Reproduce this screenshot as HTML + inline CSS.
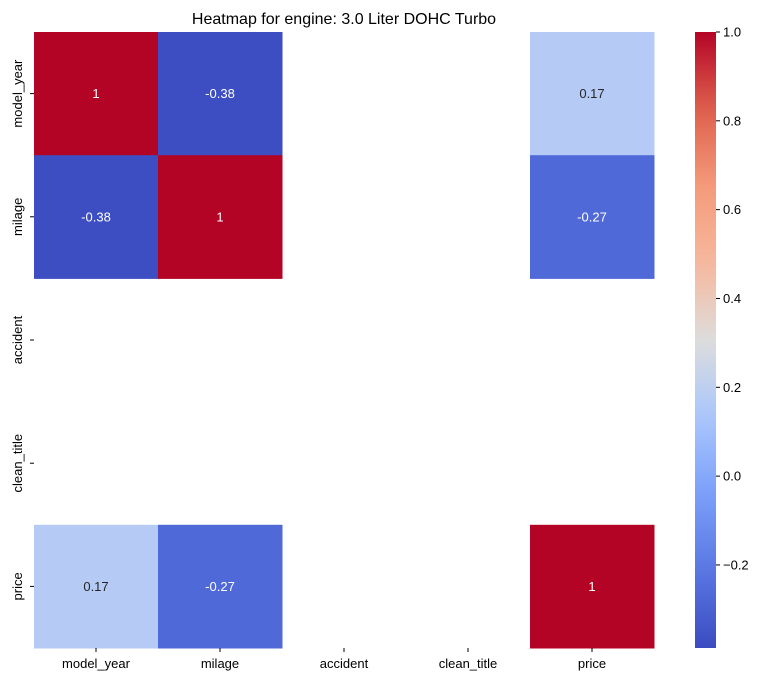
<!DOCTYPE html>
<html><head><meta charset="utf-8"><style>
body{margin:0;background:#fff;font-family:"Liberation Sans","DejaVu Sans",sans-serif;}
</style></head><body>
<svg id="chart" width="776" height="682" xmlns="http://www.w3.org/2000/svg" font-family="Liberation Sans, DejaVu Sans, sans-serif">
<defs><linearGradient id="cbgrad" x1="0" y1="1" x2="0" y2="0"></linearGradient></defs>
<text x="344" y="24" text-anchor="middle" font-size="16" fill="#000">Heatmap for engine: 3.0 Liter DOHC Turbo</text>
<g id="cells"></g><g id="axes"></g><g id="cbar"></g>
</svg>
<script>
const labels = ["model_year","milage","accident","clean_title","price"];
const values = [
 [1, -0.38, null, null, 0.17],
 [-0.38, 1, null, null, -0.27],
 [null, null, null, null, null],
 [null, null, null, null, null],
 [0.17, -0.27, null, null, 1]
];
const cbTicks = [-0.2, 0.0, 0.2, 0.4, 0.6, 0.8, 1.0];
const vmin = -0.387, vmax = 1.0;
const L=34, T=32, W=620, H=616;
const cw = W/labels.length, ch = H/labels.length;
const stops=[[0,[59,76,192]],[0.125,[89,119,227]],[0.25,[123,159,249]],[0.375,[170,199,253]],[0.5,[221,220,220]],[0.625,[247,184,156]],[0.75,[244,154,123]],[0.875,[222,96,77]],[1,[180,4,38]]];
function cmap(t){t=Math.max(0,Math.min(1,t));for(let i=1;i<stops.length;i++){if(t<=stops[i][0]){const a=stops[i-1],b=stops[i];const f=(t-a[0])/(b[0]-a[0]);const c=a[1].map((v,k)=>Math.round(v+(b[1][k]-v)*f));return `rgb(${c})`;}}return 'rgb(180,4,38)';}
function norm(v){return (v-vmin)/(vmax-vmin);}
const NS="http://www.w3.org/2000/svg";
function mk(tag,attrs,parent){const e=document.createElementNS(NS,tag);for(const k in attrs)e.setAttribute(k,attrs[k]);parent.appendChild(e);return e;}
const cells=document.getElementById('cells'),axes=document.getElementById('axes'),cbar=document.getElementById('cbar');
values.forEach((row,r)=>row.forEach((v,c)=>{
 if(v===null)return;
 const t=norm(v);
 const rect=mk('rect',{x:L+c*cw,y:T+r*ch,width:cw+0.5,height:ch+0.5,fill:cmap(t)},cells);
 
 
 const tx=mk('text',{x:L+(c+0.5)*cw,y:T+(r+0.5)*ch+4.5,'text-anchor':'middle','font-size':'13',fill:(t>0.8||t<0.2)?'#fff':'#262626'},cells);
 tx.textContent=String(v);
 
 
}));
labels.forEach((lab,i)=>{
 const x=L+(i+0.5)*cw, y=T+(i+0.5)*ch;
 mk('line',{x1:x,y1:T+H,x2:x,y2:T+H+4,stroke:'#000'},axes);
 const xt=mk('text',{x:x,y:T+H+20,'text-anchor':'middle','font-size':'13',fill:'#000'},axes);
 xt.textContent=lab;
 
 
 mk('line',{x1:L-4,y1:y,x2:L,y2:y,stroke:'#000'},axes);
 const yt=mk('text',{x:0,y:0,'text-anchor':'middle','font-size':'13',fill:'#000',transform:`translate(22,${y}) rotate(-90)`},axes);
 yt.textContent=lab;
 
 
});
const g=document.getElementById('cbgrad');
for(let i=0;i<=20;i++){mk('stop',{offset:i/20,'stop-color':cmap(i/20)},g);}
const CX=695,CW=21;
const cb=mk('rect',{x:CX,y:T,width:CW,height:H,fill:'url(#cbgrad)'},cbar);


cbTicks.forEach(v=>{
 const y=T+H-norm(v)*H;
 mk('line',{x1:CX+CW,y1:y,x2:CX+CW+4,y2:y,stroke:'#000'},cbar);
 const t=mk('text',{x:CX+CW+7,y:y+4.5,'font-size':'13',fill:'#000'},cbar);
 t.textContent=(v<0?'\u2212'+Math.abs(v).toFixed(1):v.toFixed(1));
 
 
});
</script>
</body></html>
